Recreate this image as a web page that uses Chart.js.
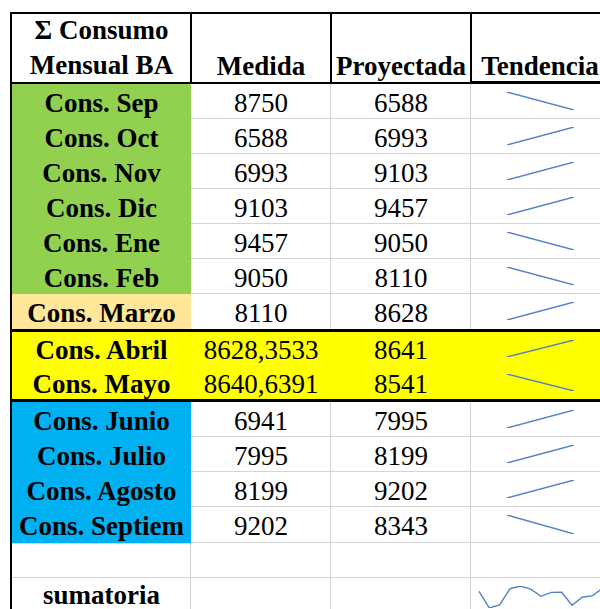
<!DOCTYPE html>
<html>
<head>
<meta charset="utf-8">
<script src="https://cdn.jsdelivr.net/npm/chart.js@4"></script>
<style>
  html, body { margin:0; padding:0; background:#fff; }
  #sheet { position:relative; width:600px; height:609px; overflow:hidden; color:#000; }
  .r { position:absolute; }
  .t { position:absolute; text-align:center; white-space:nowrap; font-family:"Liberation Serif", "DejaVu Serif", serif; }
  canvas.sp { position:absolute; }
</style>
</head>
<body>
<div id="sheet"></div>
<script>
// ---- data ----
const headerTitle = ['Σ Consumo', 'Mensual BA'];
const headers = ['Medida', 'Proyectada', 'Tendencia'];
const categories = ['Cons. Sep','Cons. Oct','Cons. Nov','Cons. Dic','Cons. Ene','Cons. Feb','Cons. Marzo','Cons. Abril','Cons. Mayo','Cons. Junio','Cons. Julio','Cons. Agosto','Cons. Septiem'];
const medida = [8750, 6588, 6993, 9103, 9457, 9050, 8110, 8628.3533, 8640.6391, 6941, 7995, 8199, 9202];
const proyectada = [6588, 6993, 9103, 9457, 9050, 8110, 8628, 8641, 8541, 7995, 8199, 9202, 8343];
const totalLabel = 'sumatoria';

// ---- layout (styles only) ----
const X = [12, 191, 331, 471, 609];
const rowTops = [84, 119, 154, 189, 224, 259, 294, 332, 366, 402, 437, 472, 507];
const rowBots = [119, 154, 189, 224, 259, 294, 329, 366, 400, 437, 472, 507, 543];
const labelFill = ['#92D050','#92D050','#92D050','#92D050','#92D050','#92D050','#FFE699','#FFFF00','#FFFF00','#00B0F0','#00B0F0','#00B0F0','#00B0F0'];
const yellowRow = [false,false,false,false,false,false,false,true,true,false,false,false,false];
const GRID = '#d4d4d4';
const LINE = '#5583c2';
const FS = 27;

const sheet = document.getElementById('sheet');
function rect(x, y, w, h, c) {
  const d = document.createElement('div'); d.className = 'r';
  Object.assign(d.style, {left:x+'px', top:y+'px', width:w+'px', height:h+'px', background:c});
  sheet.appendChild(d); return d;
}
function text(str, x0, x1, cy, bold, boxH) {
  const hh = boxH || 40;
  const d = document.createElement('div'); d.className = 't';
  d.textContent = str;
  Object.assign(d.style, {left:x0+'px', width:(x1-x0)+'px', top:(cy-hh/2)+'px', height:hh+'px', lineHeight:hh+'px', fontSize:FS+'px', fontWeight: bold ? 'bold' : 'normal'});
  sheet.appendChild(d); return d;
}
function fmt(v) { return String(v).replace('.', ','); }

// fills
categories.forEach((c, i) => {
  const h = rowBots[i] - rowTops[i];
  if (yellowRow[i]) rect(X[0], rowTops[i], 609 - X[0], h, '#FFFF00');
  else rect(X[0], rowTops[i], X[1] - X[0], h, labelFill[i]);
});

// grid lines (white body cells)
categories.forEach((c, i) => {
  if (yellowRow[i]) return;
  const h = rowBots[i] - rowTops[i];
  if (i !== 6) rect(X[1], rowBots[i] - 1, 609 - X[1], 1, GRID);
  rect(X[2] - 1, rowTops[i], 1, h, GRID);
  rect(X[3] - 1, rowTops[i], 1, h, GRID);
});
// empty row + sumatoria row
rect(X[0], 577, 609 - X[0], 1, GRID);
[X[1], X[2], X[3]].forEach(x => rect(x - 1, 543, 1, 66, GRID));
rect(X[0], 543, X[1] - X[0], 1, GRID);

// header & thick borders
rect(10, 12, 590, 2, '#000');
rect(10, 12, 2, 597, '#000');
[X[1], X[2], X[3]].forEach(x => rect(x - 1, 12, 2, 72, '#000'));
rect(10, 82, 590, 2, '#000');
rect(X[3], 81, 609 - X[3], 3, '#000');
rect(10, 329, 590, 3, '#000');
rect(10, 399, 590, 3, '#000');

// header text
text(headerTitle[0], X[0], X[1], 30, true);
text(headerTitle[1], X[0], X[1], 65, true);
headers.forEach((h, j) => text(h, X[j + 1], X[j + 2], 66, true));

// body text
categories.forEach((c, i) => {
  const cy = (rowTops[i] + rowBots[i]) / 2 + 1;
  text(c, X[0], X[1], cy, true);
  text(fmt(medida[i]), X[1], X[2], cy, false);
  text(fmt(proyectada[i]), X[2], X[3], cy, false);
});
text(totalLabel, X[0], X[1], 595, true, 28);

// sparklines
function spark(left, top, w, h, values, padX, padY) {
  const cv = document.createElement('canvas'); cv.className = 'sp';
  cv.width = w; cv.height = h;
  cv.style.left = left + 'px'; cv.style.top = top + 'px';
  cv.style.width = w + 'px'; cv.style.height = h + 'px';
  sheet.appendChild(cv);
  new Chart(cv, {
    type: 'line',
    data: { labels: values.map((v, k) => k), datasets: [{ data: values, borderColor: LINE, borderWidth: 1.4, pointRadius: 0, tension: 0, fill: false }] },
    options: {
      responsive: false, animation: false, events: [],
      layout: { padding: { left: padX, right: padX, top: padY, bottom: padY } },
      plugins: { legend: { display: false }, tooltip: { enabled: false } },
      scales: {
        x: { display: false, offset: false },
        y: { display: false, min: Math.min(...values), max: Math.max(...values) }
      }
    }
  });
}
categories.forEach((c, i) => {
  spark(505, rowTops[i], 71, rowBots[i] - rowTops[i] - 1, [medida[i], proyectada[i]], 2, 8);
});
spark(477, 578, 128, 38, medida, 2, 8);
</script>
</body>
</html>
